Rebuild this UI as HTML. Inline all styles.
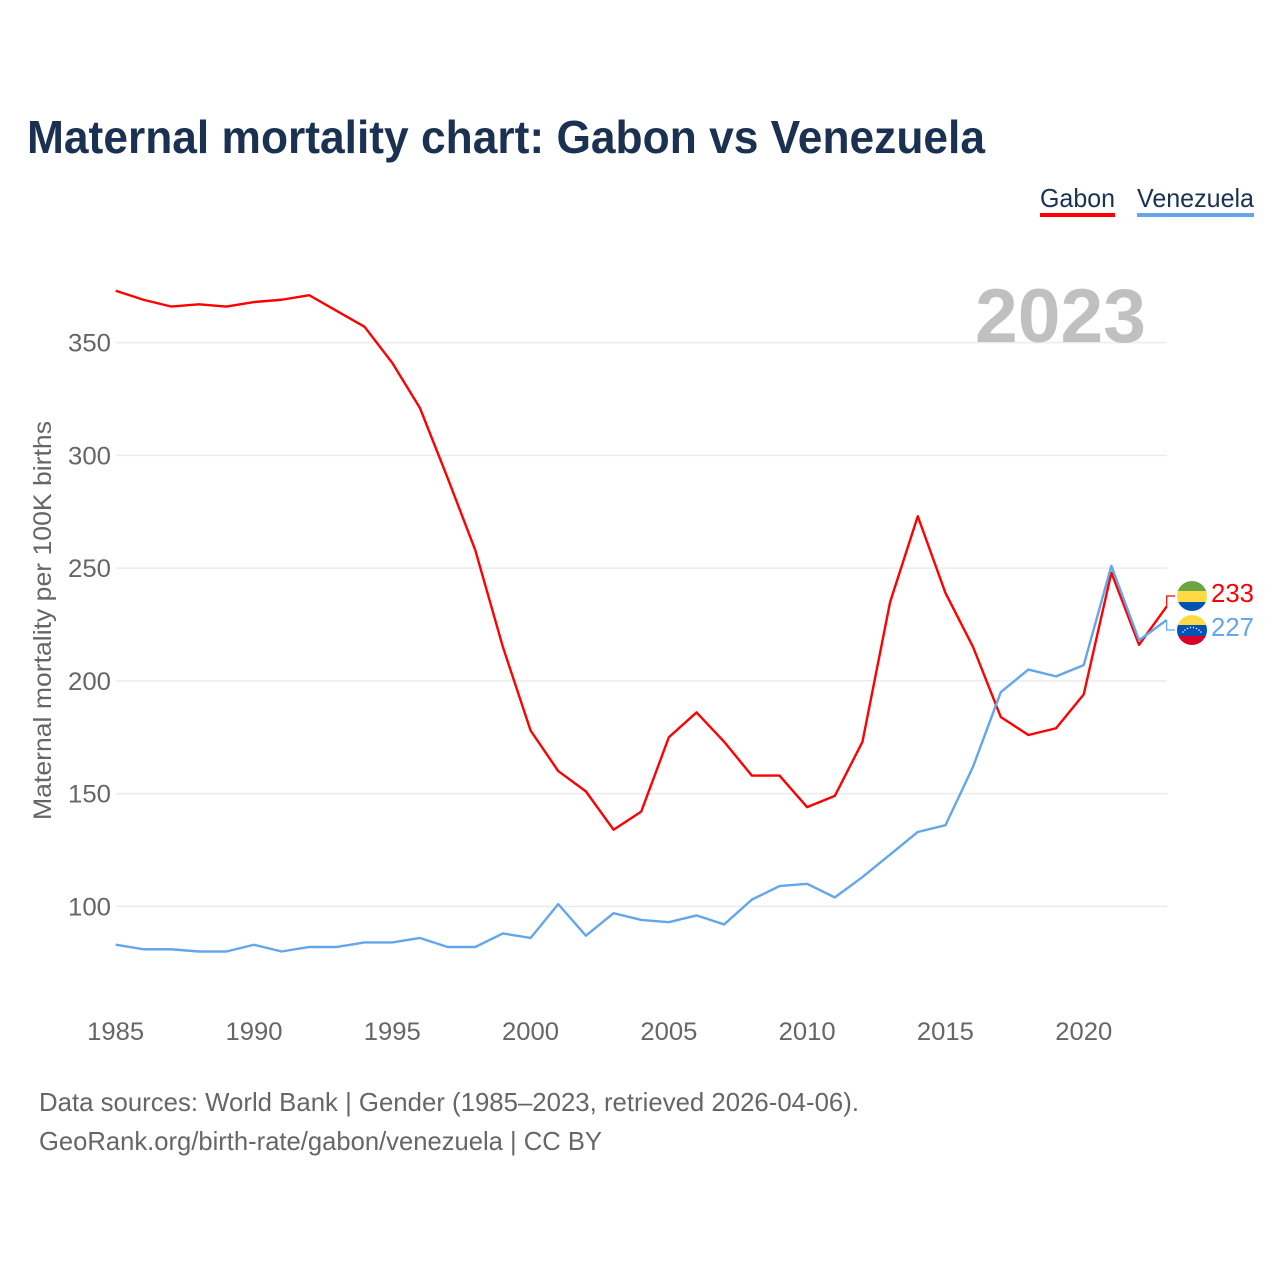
<!DOCTYPE html>
<html lang="en">
<head>
<meta charset="utf-8">
<title>Maternal mortality chart: Gabon vs Venezuela</title>
<style>
html,body{margin:0;padding:0;background:#fff}
svg{display:block}
text{font-family:"Liberation Sans",sans-serif}
</style>
</head>
<body>
<svg id="chart" width="1280" height="1280" viewBox="0 0 1280 1280" xmlns="http://www.w3.org/2000/svg">
  <defs>
    <clipPath id="clip-gabon"><circle cx="1192" cy="596" r="15"/></clipPath>
    <clipPath id="clip-venezuela"><circle cx="1192" cy="630" r="15"/></clipPath>
  </defs>
  <rect width="1280" height="1280" fill="#fff"/>
  <text x="27" y="153" font-size="46" font-weight="700" fill="#1a3152" textLength="958" lengthAdjust="spacingAndGlyphs">Maternal mortality chart: Gabon vs Venezuela</text>

  <g>
    <text x="1040" y="207" font-size="26" fill="#1a3152" textLength="75" lengthAdjust="spacingAndGlyphs">Gabon</text>
    <rect x="1040" y="213" width="75" height="4" fill="#ff0000"/>
  </g>
  <g>
    <text x="1137" y="207" font-size="26" fill="#1a3152" textLength="117" lengthAdjust="spacingAndGlyphs">Venezuela</text>
    <rect x="1137" y="213" width="117" height="4" fill="#63a6ea"/>
  </g>

  <g id="grid"></g>
  <g id="y-ticks"></g>
  <g id="x-ticks"></g>

  <text x="975" y="342" font-size="76" font-weight="700" fill="#c0c0c0" textLength="171" lengthAdjust="spacingAndGlyphs">2023</text>

  <text transform="translate(51 820) rotate(-90)" x="0" y="0" font-size="25" fill="#666" textLength="399" lengthAdjust="spacingAndGlyphs">Maternal mortality per 100K births</text>

  <g id="series"></g>
  <g id="leaders"></g>

  <g clip-path="url(#clip-gabon)">
    <rect x="1177" y="581" width="30" height="10" fill="#6da544"/>
    <rect x="1177" y="591" width="30" height="11" fill="#ffda44"/>
    <rect x="1177" y="602" width="30" height="9" fill="#0052b4"/>
  </g>
  <g clip-path="url(#clip-venezuela)">
    <rect x="1177" y="615" width="30" height="10" fill="#ffda44"/>
    <rect x="1177" y="625" width="30" height="11" fill="#0052b4"/>
    <rect x="1177" y="636" width="30" height="9" fill="#d80027"/>
    <g fill="#f0f0f0">
      <circle cx="1183" cy="632" r="0.8"/><circle cx="1185" cy="630" r="0.8"/><circle cx="1187.500" cy="628.500" r="0.8"/>
      <circle cx="1190.500" cy="627.500" r="0.8"/><circle cx="1193.500" cy="627.500" r="0.8"/><circle cx="1196.500" cy="628.500" r="0.8"/>
      <circle cx="1199" cy="630" r="0.8"/><circle cx="1201" cy="632" r="0.8"/>
    </g>
  </g>

  <text id="value-gabon" x="1211" y="602" font-size="26" fill="#ff0000" textLength="43" lengthAdjust="spacingAndGlyphs"></text>
  <text id="value-venezuela" x="1211" y="636" font-size="26" fill="#63a6ea" textLength="43" lengthAdjust="spacingAndGlyphs"></text>

  <text x="39" y="1111" font-size="26" fill="#666" textLength="820" lengthAdjust="spacingAndGlyphs">Data sources: World Bank | Gender (1985–2023, retrieved 2026-04-06).</text>
  <text x="39" y="1150" font-size="26" fill="#666" textLength="563" lengthAdjust="spacingAndGlyphs">GeoRank.org/birth-rate/gabon/venezuela | CC BY</text>
</svg>
<script>
const years = [1985,1986,1987,1988,1989,1990,1991,1992,1993,1994,1995,1996,1997,1998,1999,2000,2001,2002,2003,2004,2005,2006,2007,2008,2009,2010,2011,2012,2013,2014,2015,2016,2017,2018,2019,2020,2021,2022,2023];
const gabonValues = [373,369,366,367,366,368,369,371,364,357,341,321,290,258,215,178,160,151,134,142,175,186,173,158,158,144,149,173,235,273,239,215,184,176,179,194,248,216,233];
const venezuelaValues = [83,81,81,80,80,83,80,82,82,84,84,86,82,82,88,86,101,87,97,94,93,96,92,103,109,110,104,113,123,133,136,162,195,205,202,207,251,218,227];
const yTickValues = [100,150,200,250,300,350];
const xTickValues = [1985,1990,1995,2000,2005,2010,2015,2020];

const NS = 'http://www.w3.org/2000/svg';
function xScale(year) { return 115.7 + (year - 1985) * (1166.7 - 115.7) / 38; }
function yScale(value) { return 906.4 - (value - 100) * (906.4 - 342.6) / 250; }
function make(tag, attrs) {
  const el = document.createElementNS(NS, tag);
  for (const k in attrs) el.setAttribute(k, attrs[k]);
  return el;
}

const grid = document.getElementById('grid');
const yTicks = document.getElementById('y-ticks');
yTickValues.forEach(function (v) {
  const line = make('line', {x1: 116, x2: 1167, y1: yScale(v), y2: yScale(v), stroke: '#ebebeb', 'stroke-width': 1.5});
  
  
  grid.appendChild(line);
  const t = make('text', {x: 111, y: yScale(v) + 9, 'text-anchor': 'end', 'font-size': 25, fill: '#666', textLength: 43, lengthAdjust: 'spacingAndGlyphs'});
  
  
  t.textContent = v;
  yTicks.appendChild(t);
});

const xTicks = document.getElementById('x-ticks');
xTickValues.forEach(function (v) {
  const t = make('text', {x: xScale(v), y: 1040, 'text-anchor': 'middle', 'font-size': 25, fill: '#666', textLength: 57, lengthAdjust: 'spacingAndGlyphs'});
  
  
  t.textContent = v;
  xTicks.appendChild(t);
});

function pathFor(values) {
  return values.map(function (v, i) {
    return (i ? 'L' : 'M') + xScale(years[i]).toFixed(2) + ' ' + yScale(v).toFixed(2);
  }).join(' ');
}
const series = document.getElementById('series');
const gabonLine = make('path', {d: pathFor(gabonValues), fill: 'none', stroke: '#ff0000', 'stroke-width': 2.4, 'stroke-linejoin': 'round'});


series.appendChild(gabonLine);
const venezuelaLine = make('path', {d: pathFor(venezuelaValues), fill: 'none', stroke: '#63a6ea', 'stroke-width': 2.4, 'stroke-linejoin': 'round'});


series.appendChild(venezuelaLine);

const leaders = document.getElementById('leaders');
const endX = xScale(years[years.length - 1]);
const gabonEnd = gabonValues[gabonValues.length - 1];
const venezuelaEnd = venezuelaValues[venezuelaValues.length - 1];
const gabonLeader = make('path', {d: 'M' + endX + ' ' + yScale(gabonEnd) + ' V596 H1175', fill: 'none', stroke: '#ff0000', 'stroke-width': 1.2});


leaders.appendChild(gabonLeader);
const venezuelaLeader = make('path', {d: 'M' + endX + ' ' + yScale(venezuelaEnd) + ' V630 H1175', fill: 'none', stroke: '#63a6ea', 'stroke-width': 1.2});


leaders.appendChild(venezuelaLeader);

document.getElementById('value-gabon').textContent = gabonEnd;
document.getElementById('value-venezuela').textContent = venezuelaEnd;
</script>
</body>
</html>
